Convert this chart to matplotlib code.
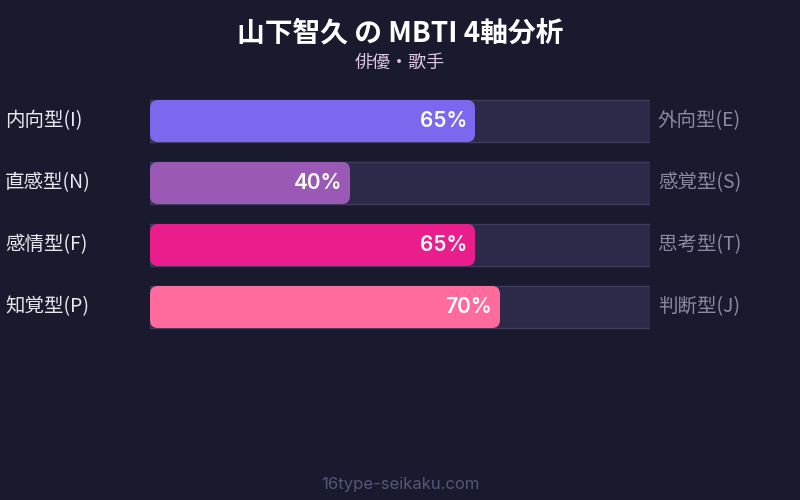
import matplotlib
matplotlib.use('Agg')
import matplotlib.pyplot as plt
from matplotlib.patches import FancyBboxPatch

plt.rcParams['font.family'] = ['Noto Sans CJK JP', 'DejaVu Sans']

title = '山下智久 の MBTI 4軸分析'
subtitle = '俳優・歌手'
left_labels = ['内向型(I)', '直感型(N)', '感情型(F)', '知覚型(P)']
right_labels = ['外向型(E)', '感覚型(S)', '思考型(T)', '判断型(J)']
values = [65, 40, 65, 70]
colors = ['#7b68ee', '#9b59b6', '#e91e8c', '#ff6b9d']
footer = '16type-seikaku.com'

bg = '#1a1a2e'
fig = plt.figure(figsize=(8, 5), dpi=100, facecolor=bg)

# axes covers the track area: x 150..650 px, rows centred at 121,183,245,307 px
ax = fig.add_axes([150/800, (500-338)/500, 500/800, 248/500])
ax.set_xlim(0, 100)
ax.set_ylim(3.5, -0.5)
ax.axis('off')

bar_h = 42/62
ypos = list(range(len(values)))

# background tracks
ax.barh(ypos, [100]*len(values), height=bar_h, color='#2c2a48',
        edgecolor='#3e3d5e', linewidth=1)

# rounded value bars (radius ~8px)
aspect = 5/62
for y, v, c in zip(ypos, values, colors):
    box = FancyBboxPatch((0, y - bar_h/2), v, bar_h,
                         boxstyle='round,pad=0,rounding_size=1.6',
                         mutation_aspect=aspect, facecolor=c, edgecolor='none')
    ax.add_patch(box)
    ax.text(v - 1.6, y, f'{v}%', ha='right', va='center', color='white',
            fontsize=15, fontweight='semibold', family=['Inter', 'DejaVu Sans'])

for y, l, r in zip(ypos, left_labels, right_labels):
    ax.text(-29, y, l, ha='left', va='center', color='#e8e8f0', fontsize=14)
    ax.text(101.6, y, r, ha='left', va='center', color='#8a8aa0', fontsize=14)

fig.text(0.5, 1 - 33/500, title, ha='center', va='center', color='white',
         fontsize=20, fontweight='bold')
fig.text(0.5, 1 - 63/500, subtitle, ha='center', va='center', color='#dcc8e4',
         fontsize=13)
fig.text(0.5, 1 - 484/500, footer, ha='center', va='center', color='#55557a',
         fontsize=12, family=['Inter', 'DejaVu Sans'])

fig.savefig('out.png', dpi=100, facecolor=bg)
